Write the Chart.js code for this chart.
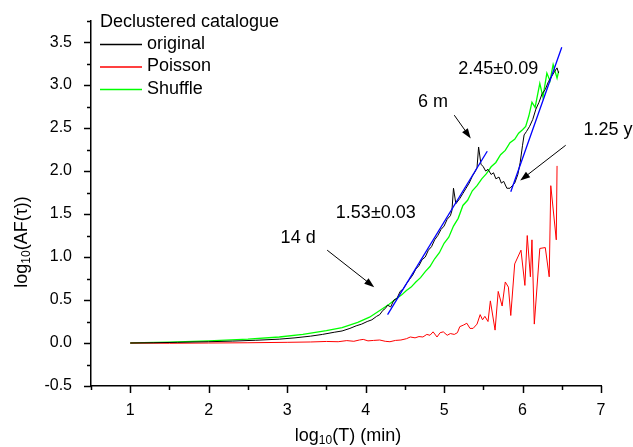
<!DOCTYPE html>
<html>
<head>
<meta charset="utf-8">
<script src="https://cdn.jsdelivr.net/npm/chart.js@4"></script>
<style>
  html, body { margin: 0; padding: 0; background: #fff; }
  #wrap { width: 633px; height: 447px; }
</style>
</head>
<body>
<div id="wrap"><canvas id="chart"></canvas></div>
<script>
// values
const origX = [1.0,1.3,1.6,2.0,2.3,2.6,2.9,3.1,3.3,3.45,3.6,3.7,3.8,3.88,3.95,4.02,4.08,4.14,4.18,4.22,4.25,4.28,4.32,4.36,4.4,4.44,4.48,4.52,4.56,4.6,4.64,4.68,4.72,4.76,4.8,4.84,4.88,4.92,4.96,5.0,5.04,5.08,5.1,5.12,5.15,5.2,5.24,5.28,5.32,5.36,5.4,5.42,5.44,5.47,5.5,5.53,5.56,5.6,5.63,5.66,5.7,5.73,5.76,5.8,5.84,5.87,5.9,5.94,5.97,6.0,6.02,6.05,6.09,6.13,6.17,6.21,6.25,6.29,6.33,6.37,6.41,6.44,6.46];
const origY = [0,0.003,0.008,0.015,0.022,0.032,0.045,0.06,0.08,0.1,0.125,0.14,0.17,0.2,0.22,0.25,0.27,0.31,0.33,0.38,0.40,0.44,0.42,0.5,0.52,0.6,0.63,0.69,0.74,0.79,0.86,0.9,0.97,1.0,1.08,1.12,1.2,1.25,1.32,1.36,1.44,1.48,1.54,1.80,1.62,1.68,1.74,1.80,1.86,1.94,2.0,2.04,2.28,2.08,2.05,2.0,2.02,1.96,1.98,1.91,1.93,1.86,1.88,1.80,1.80,1.83,1.86,1.96,2.1,2.3,2.42,2.46,2.52,2.6,2.72,2.8,2.9,2.95,3.04,3.1,3.16,3.2,3.14];

const poisX = [1.0,1.5,2.0,2.5,3.0,3.3,3.5,3.65,3.76,3.85,3.92,3.97,4.03,4.1,4.18,4.25,4.31,4.38,4.45,4.52,4.57,4.63,4.68,4.73,4.78,4.82,4.86,4.91,4.95,4.99,5.04,5.08,5.13,5.17,5.2,5.25,5.29,5.33,5.37,5.42,5.46,5.49,5.52,5.56,5.59,5.65,5.69,5.74,5.78,5.82,5.85,5.9,5.98,6.03,6.06,6.1,6.12,6.15,6.22,6.29,6.34,6.36,6.43,6.44];
const poisY = [0,-0.003,0,0.003,0.008,0.012,0.018,0.015,0.028,0.02,0.035,0.042,0.025,0.03,0.035,0.02,0.015,0.03,0.035,0.05,0.07,0.06,0.075,0.07,0.1,0.09,0.13,0.07,0.12,0.13,0.09,0.11,0.1,0.12,0.19,0.21,0.23,0.17,0.17,0.22,0.33,0.27,0.31,0.25,0.49,0.15,0.60,0.43,0.71,0.65,0.32,0.92,1.08,0.67,1.25,0.77,1.20,0.22,1.10,1.11,0.77,1.83,1.20,2.06];

const shufX = [1.0,1.5,2.0,2.5,2.9,3.2,3.5,3.7,3.9,4.05,4.2,4.3,4.4,4.46,4.52,4.58,4.64,4.7,4.76,4.82,4.88,4.94,5.0,5.06,5.12,5.18,5.24,5.3,5.36,5.42,5.48,5.54,5.6,5.66,5.72,5.78,5.84,5.9,5.95,6.0,6.04,6.08,6.12,6.16,6.22,6.26,6.31,6.35,6.39,6.44,6.46];
const shufY = [0,0.01,0.025,0.045,0.07,0.1,0.145,0.18,0.24,0.30,0.39,0.45,0.52,0.56,0.61,0.65,0.71,0.76,0.83,0.89,0.98,1.05,1.16,1.23,1.36,1.45,1.60,1.66,1.77,1.83,1.91,1.97,2.05,2.10,2.19,2.24,2.33,2.37,2.44,2.48,2.52,2.64,2.80,2.74,3.02,2.86,3.14,3.05,3.24,3.08,3.16];

// fitted slopes
const fitAX = [4.28, 5.55], fitAY = [0.33, 2.23];
const fitBX = [5.85, 6.50], fitBY = [1.76, 3.44];

const xTicks = [1, 2, 3, 4, 5, 6, 7];
const yTicks = [-0.5, 0, 0.5, 1, 1.5, 2, 2.5, 3, 3.5];

const legendTitle = 'Declustered catalogue';

const notes = [
  { text: '2.45\u00b10.09', x: 5.69, y: 3.19 },
  { text: '6 m', x: 4.86, y: 2.80 },
  { text: '1.25 y', x: 7.09, y: 2.48 },
  { text: '1.53\u00b10.03', x: 4.13, y: 1.51 },
  { text: '14 d', x: 3.14, y: 1.22 }
];
const arrows = [
  { x1: 5.13, y1: 2.65, x2: 5.34, y2: 2.38 },
  { x1: 6.55, y1: 2.30, x2: 5.97, y2: 1.89 },
  { x1: 3.51, y1: 1.08, x2: 4.11, y2: 0.65 }
];

const FONT = '"Liberation Sans", Arial, Helvetica, sans-serif';

function pts(xs, ys) {
  return xs.map((x, i) => ({ x: x, y: ys[i] }));
}

// text with a subscript part: parts = [[text, isSub], ...]
function drawSubText(ctx, parts, cx, cy) {
  let total = 0;
  parts.forEach(p => {
    ctx.font = (p[1] ? '12px ' : '18px ') + FONT;
    total += ctx.measureText(p[0]).width;
  });
  let x = cx - total / 2;
  parts.forEach(p => {
    ctx.font = (p[1] ? '12px ' : '18px ') + FONT;
    ctx.fillText(p[0], x, cy + (p[1] ? 5 : 0));
    x += ctx.measureText(p[0]).width;
  });
}

const decor = {
  id: 'decor',
  afterDraw(chart) {
    const ctx = chart.ctx;
    const xs = chart.scales.x, ys = chart.scales.y;
    const area = chart.chartArea;
    ctx.save();
    ctx.strokeStyle = '#000';
    ctx.fillStyle = '#000';
    ctx.lineWidth = 1.5;

    // tick marks, major and minor
    for (let v = ys.min; v <= ys.max + 1e-9; v += 0.25) {
      const major = yTicks.some(t => Math.abs(t - v) < 1e-6);
      const py = Math.round(ys.getPixelForValue(v)) + 0.5;
      ctx.beginPath();
      ctx.moveTo(area.left, py);
      ctx.lineTo(area.left - (major ? 7 : 4), py);
      ctx.stroke();
    }
    for (let v = xs.min; v <= xs.max + 1e-9; v += 0.5) {
      const major = xTicks.some(t => Math.abs(t - v) < 1e-6);
      const px = Math.round(xs.getPixelForValue(v)) + 0.5;
      ctx.beginPath();
      ctx.moveTo(px, area.bottom);
      ctx.lineTo(px, area.bottom + (major ? 7 : 4));
      ctx.stroke();
    }

    // axis titles
    ctx.textBaseline = 'middle';
    ctx.textAlign = 'left';
    drawSubText(ctx, [['log', false], ['10', true], ['(T) (min)', false]], 348, 436);
    ctx.save();
    ctx.translate(22, 242);
    ctx.rotate(-Math.PI / 2);
    drawSubText(ctx, [['log', false], ['10', true], ['(AF(\u03c4))', false]], 0, 0);
    ctx.restore();

    // legend inside the plot
    ctx.font = '18px ' + FONT;
    ctx.fillText(legendTitle, 100, 22);
    let row = 0;
    chart.data.datasets.forEach(ds => {
      if (!ds.label) return;
      const y = 44 + row * 22.5;
      ctx.strokeStyle = ds.borderColor;
      ctx.lineWidth = 1.3;
      ctx.beginPath();
      ctx.moveTo(100, y + 0.5);
      ctx.lineTo(142, y + 0.5);
      ctx.stroke();
      ctx.fillText(ds.label, 147, y);
      row++;
    });

    // annotations
    ctx.textAlign = 'center';
    ctx.fillStyle = '#000';
    notes.forEach(n => {
      ctx.fillText(n.text, xs.getPixelForValue(n.x), ys.getPixelForValue(n.y));
    });
    ctx.strokeStyle = '#000';
    ctx.lineWidth = 1;
    arrows.forEach(a => {
      const x1 = xs.getPixelForValue(a.x1), y1 = ys.getPixelForValue(a.y1);
      const x2 = xs.getPixelForValue(a.x2), y2 = ys.getPixelForValue(a.y2);
      const ang = Math.atan2(y2 - y1, x2 - x1);
      ctx.beginPath();
      ctx.moveTo(x1, y1);
      ctx.lineTo(x2 - 8 * Math.cos(ang), y2 - 8 * Math.sin(ang));
      ctx.stroke();
      ctx.beginPath();
      ctx.moveTo(x2, y2);
      ctx.lineTo(x2 - 10 * Math.cos(ang) + 3.5 * Math.sin(ang), y2 - 10 * Math.sin(ang) - 3.5 * Math.cos(ang));
      ctx.lineTo(x2 - 10 * Math.cos(ang) - 3.5 * Math.sin(ang), y2 - 10 * Math.sin(ang) + 3.5 * Math.cos(ang));
      ctx.closePath();
      ctx.fill();
    });
    ctx.restore();
  }
};

const ctx = document.getElementById('chart').getContext('2d');
new Chart(ctx, {
  type: 'scatter',
  data: {
    datasets: [
      { data: pts(fitAX, fitAY), borderColor: '#0000ff', borderWidth: 1.3, showLine: true, pointRadius: 0 },
      { data: pts(fitBX, fitBY), borderColor: '#0000ff', borderWidth: 1.3, showLine: true, pointRadius: 0 },
      { label: 'original', data: pts(origX, origY), borderColor: '#000000', borderWidth: 1, showLine: true, pointRadius: 0 },
      { label: 'Poisson', data: pts(poisX, poisY), borderColor: '#ff0000', borderWidth: 1, showLine: true, pointRadius: 0 },
      { label: 'Shuffle', data: pts(shufX, shufY), borderColor: '#00ff00', borderWidth: 1.3, showLine: true, pointRadius: 0 }
    ]
  },
  options: {
    responsive: true,
    maintainAspectRatio: false,
    animation: false,
    layout: { padding: { top: 8, right: 32, left: 0, bottom: 0 } },
    plugins: { legend: { display: false }, tooltip: { enabled: false } },
    scales: {
      x: {
        type: 'linear',
        min: 0.5,
        max: 7,
        afterBuildTicks: s => { s.ticks = xTicks.map(v => ({ value: v })); },
        afterFit: s => { s.height = 61; },
        grid: { display: false },
        border: { color: '#000', width: 1.5 },
        ticks: { color: '#000', font: { size: 16, family: FONT }, padding: 7, autoSkip: false, maxRotation: 0, callback: v => String(v) }
      },
      y: {
        min: -0.5,
        max: 3.75,
        afterBuildTicks: s => { s.ticks = yTicks.map(v => ({ value: v })); },
        afterFit: s => { s.width = 91; },
        grid: { display: false },
        border: { color: '#000', width: 1.5 },
        ticks: { color: '#000', font: { size: 16, family: FONT }, padding: 11, autoSkip: false, callback: v => v.toFixed(1) }
      }
    }
  },
  plugins: [decor]
});
</script>
</body>
</html>
